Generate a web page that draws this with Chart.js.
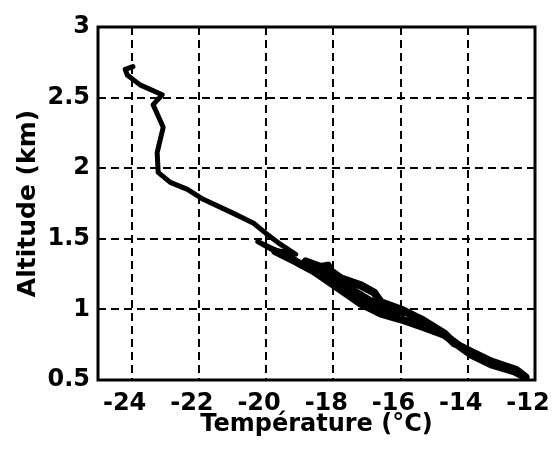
<!DOCTYPE html>
<html>
<head>
<meta charset="utf-8">
<script src="https://cdn.jsdelivr.net/npm/chart.js@4"></script>
<style>
  html, body { margin: 0; padding: 0; background: #fff; }
  canvas { display: block; }
</style>
</head>
<body>
<canvas id="chart" width="559" height="450"></canvas>
<script>
// ---- Data ----
const temperature = [
  -23.96, -24.19, -24.13, -23.75, -23.09, -23.36, -23.06, -23.24, -23.21, -22.85,
  -22.34, -21.87, -20.97, -20.37, -20.01, -19.57, -19.12, -19.72, -20.25, -19.72,
  -19.12, -18.58, -17.78, -17.18, -16.58, -15.99, -15.39, -14.70, -14.19, -13.90,
  -13.30, -12.61, -12.28, -12.55, -13.30, -13.90, -14.40, -14.70, -15.39, -15.99,
  -16.58, -16.79, -17.18, -17.78, -18.07, -18.16, -18.37, -18.82, -17.78, -17.18,
  -16.58, -15.99
];
const altitude = [
  2.72, 2.70, 2.66, 2.59, 2.52, 2.45, 2.29, 2.11, 1.97, 1.90,
  1.85, 1.78, 1.68, 1.61, 1.54, 1.46, 1.39, 1.42, 1.48, 1.41,
  1.34, 1.27, 1.14, 1.04, 0.97, 0.93, 0.88, 0.82, 0.73, 0.68,
  0.61, 0.56, 0.52, 0.57, 0.63, 0.70, 0.76, 0.83, 0.93, 1.00,
  1.05, 1.12, 1.17, 1.22, 1.27, 1.31, 1.30, 1.34, 1.18, 1.10,
  1.01, 0.96
];
const xTicks = [-24, -22, -20, -18, -16, -14, -12];
const yTicks = [0.5, 1, 1.5, 2, 2.5, 3];

const points = temperature.map((t, i) => ({ x: t, y: altitude[i] }));

// ---- Box round the plot area ----
const frameBox = {
    id: 'frameBox',
    afterDatasetsDraw: (chart) => {
        const { ctx, chartArea: a } = chart;
        ctx.save();
        ctx.setLineDash([]);
        ctx.lineWidth = 3;
        ctx.strokeStyle = '#000';
        ctx.strokeRect(a.left, a.top, a.right - a.left, a.bottom - a.top);
        ctx.restore();
    }
};

const tickFont = { family: 'DejaVu Sans', size: 24, weight: 'bold' };
const titleFont = { family: 'DejaVu Sans', size: 24, weight: 'bold' };

const config = {
    type: 'scatter',
    data: {
        datasets: [{
            data: points,
            showLine: true,
            borderColor: '#000',
            borderWidth: 5,
            pointRadius: 0,
            borderJoinStyle: 'round',
            borderCapStyle: 'round',
            tension: 0,
            // the lower part is a thick band of several passes
            segment: { borderWidth: (c) => c.p0DataIndex >= 19 ? 8 : 5 }
        }]
    },
    options: {
        responsive: false,
        animation: false,
        layout: { padding: { top: 27, right: 24, left: 0, bottom: 0 } },
        plugins: { legend: { display: false }, tooltip: { enabled: false } },
        scales: {
            x: {
                type: 'linear',
                min: -25,
                max: -12,
                afterBuildTicks: (scale) => { scale.ticks = xTicks.map(v => ({ value: v })); },
                afterFit: (scale) => { scale.height = 70; scale.paddingRight = 0; scale.paddingLeft = 0; },
                grid: { color: '#000', lineWidth: 2, drawTicks: false },
                border: { display: false, dash: [8, 5] },
                ticks: {
                    color: '#000',
                    font: tickFont,
                    padding: 9,
                    labelOffset: -7,
                    maxRotation: 0,
                    callback: (v) => String(v)
                },
                title: {
                    display: true,
                    text: 'Température (°C)',
                    color: '#000',
                    font: titleFont,
                    padding: { top: 0, bottom: 11 }
                }
            },
            y: {
                type: 'linear',
                min: 0.5,
                max: 3,
                afterBuildTicks: (scale) => { scale.ticks = yTicks.map(v => ({ value: v })); },
                afterFit: (scale) => { scale.width = 98; scale.paddingTop = 0; scale.paddingBottom = 0; },
                grid: { color: '#000', lineWidth: 2, drawTicks: false },
                border: { display: false, dash: [8, 5] },
                ticks: {
                    color: '#000',
                    font: tickFont,
                    padding: 8,
                    callback: (v) => String(v)
                },
                title: {
                    display: true,
                    text: 'Altitude (km)',
                    color: '#000',
                    font: { family: 'DejaVu Sans', size: 25, weight: 'bold' },
                    padding: { top: 13, bottom: 0 }
                }
            }
        }
    },
    plugins: [frameBox]
};

new Chart(document.getElementById('chart').getContext('2d'), config);
</script>
</body>
</html>
